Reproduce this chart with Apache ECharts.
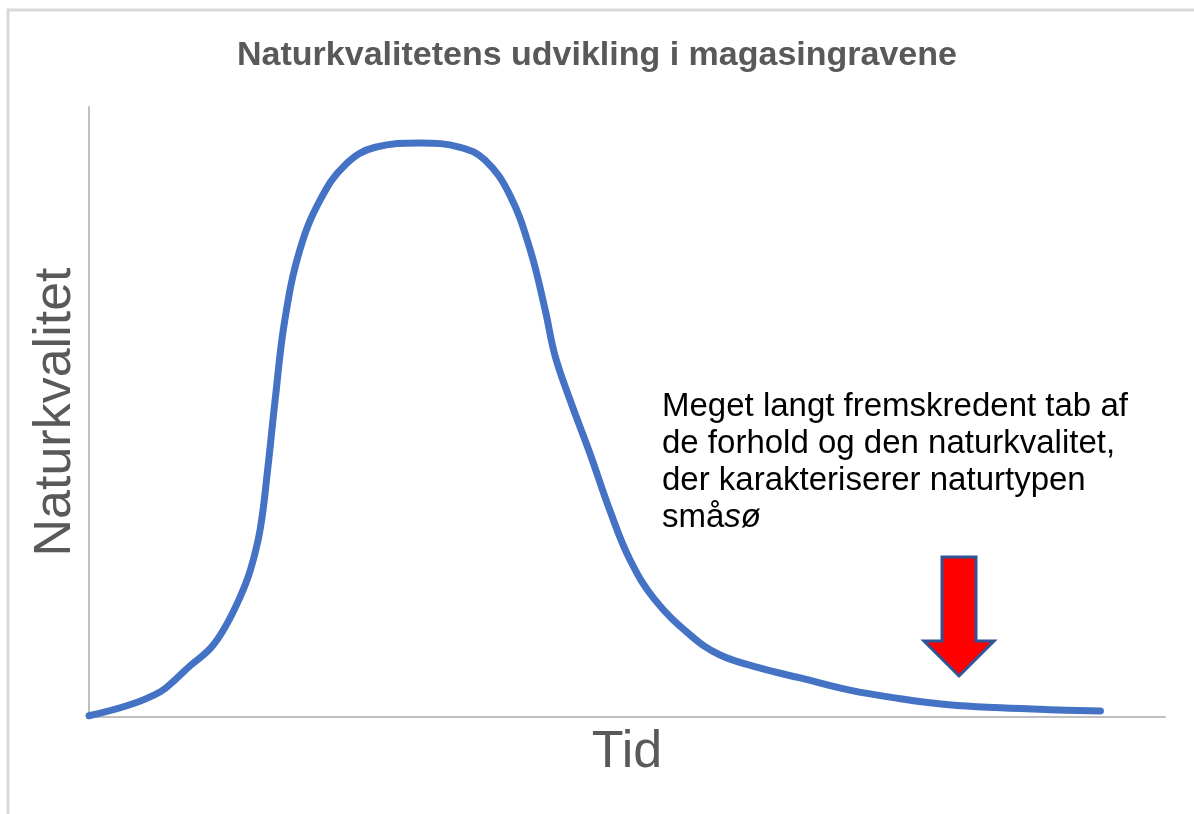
<!DOCTYPE html>
<html>
<head>
<meta charset="utf-8">
<script src="https://cdn.jsdelivr.net/npm/echarts@6/dist/echarts.min.js"></script>
<style>html,body{margin:0;padding:0;background:#fff;}#c{width:1194px;height:814px;}</style>
</head>
<body>
<div id="c"></div>
<script>
const titleText = 'Naturkvalitetens udvikling i magasingravene';
const xName = 'Tid';
const yName = 'Naturkvalitet';
const timeValues = [0, 3.8, 6.6, 8.0, 9.4, 11.3, 12.6, 14.0, 15.0, 15.9, 16.6, 17.3, 18.2, 19.6, 21.5, 23.8, 26.6, 30.8, 34.5, 36.8, 39.1, 41.0, 42.4, 43.3, 44.7, 46.6, 48.4, 50.3, 52.6, 55.9, 58.6, 62.4, 66.1, 70.7, 75.4, 79.9, 84.7, 89.3, 94.0];
const qualityValues = [0.2, 2.0, 4.1, 6.1, 8.4, 11.3, 14.6, 19.5, 24.1, 30.7, 40.5, 52.0, 65.1, 76.6, 84.8, 90.5, 93.4, 94.1, 93.4, 91.3, 85.6, 76.6, 66.7, 59.3, 52.0, 43.0, 33.9, 25.7, 19.2, 13.4, 10.2, 8.0, 6.4, 4.4, 3.0, 2.0, 1.5, 1.2, 1.0];
const noteLines = ['Meget langt fremskredent tab af', 'de forhold og den naturkvalitet,', 'der karakteriserer naturtypen', 'små{i|sø}'];

const chart = echarts.init(document.getElementById('c'));
const data = timeValues.map((t, i) => [t, qualityValues[i]]);
chart.setOption({
  backgroundColor: '#fff',
  animation: false,
  title: {
    text: titleText,
    left: 'center',
    top: 34,
    textStyle: {fontFamily: 'Liberation Sans', fontWeight: 'bold', fontSize: 34, color: '#595959'}
  },
  grid: {left: 89, right: 29, top: 107, bottom: 97},
  xAxis: {
    type: 'value', min: 0, max: 100,
    name: xName, nameLocation: 'middle', nameGap: 10,
    nameTextStyle: {fontFamily: 'Liberation Sans', fontSize: 52, color: '#595959', verticalAlign: 'top'},
    axisLine: {show: true, onZero: false, lineStyle: {color: '#bfbfbf', width: 2}},
    axisTick: {show: false}, axisLabel: {show: false}, splitLine: {show: false}
  },
  yAxis: {
    type: 'value', min: 0, max: 100,
    name: yName, nameLocation: 'middle', nameGap: 7,
    nameTextStyle: {fontFamily: 'Liberation Sans', fontSize: 52, color: '#595959'},
    axisLine: {show: true, lineStyle: {color: '#bfbfbf', width: 2}},
    axisTick: {show: false}, axisLabel: {show: false}, splitLine: {show: false}
  },
  series: [{
    type: 'line', data: data, smooth: 0.4, showSymbol: false,
    lineStyle: {color: '#4472C4', width: 7, cap: 'round', join: 'round'}
  }],
  graphic: [
    {type: 'polyline', silent: true, shape: {points: [[8, 900], [8, 10], [1300, 10]]}, style: {stroke: '#d9d9d9', lineWidth: 3, fill: null}},
    {type: 'text', left: 662, top: 388, silent: true,
     style: {text: noteLines.join('\n'), fontFamily: 'Liberation Sans', fontSize: 33, lineHeight: 37, fill: '#000',
       rich: {i: {fontFamily: 'Liberation Sans', fontStyle: 'italic', fontSize: 33, lineHeight: 37, fill: '#000'}}}},
    {type: 'polygon', silent: true,
     shape: {points: [[942, 557], [976, 557], [976, 641], [994, 641], [959, 676], [924, 641], [942, 641]]},
     style: {fill: '#FF0000', stroke: '#2F5597', lineWidth: 3}}
  ]
});
</script>
</body>
</html>
